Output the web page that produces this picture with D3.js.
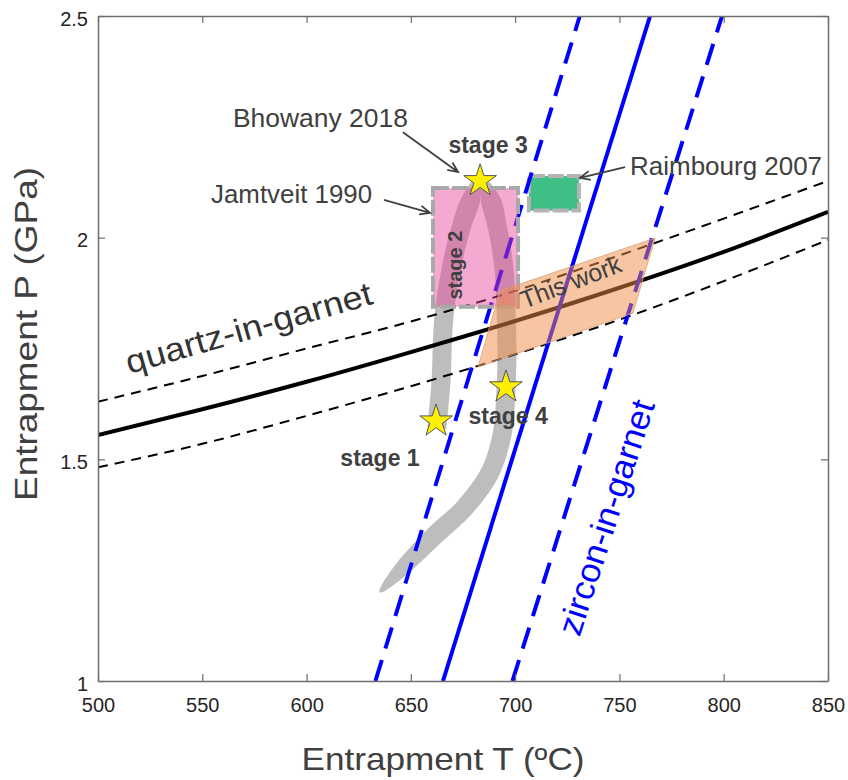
<!DOCTYPE html>
<html>
<head>
<meta charset="utf-8">
<script src="https://cdn.jsdelivr.net/npm/d3@7"></script>
<style>
  body { margin: 0; background: #fff; }
  svg { font-family: "Liberation Sans", Arial, sans-serif; }
</style>
</head>
<body>
<div id="chart"></div>
<script>
// axis ticks
const tempTicks = [500, 550, 600, 650, 700, 750, 800, 850];
const presTicks = [1, 1.5, 2, 2.5];

// quartz-in-garnet isomekes (P in GPa at each T)
const qigT = [500, 550, 600, 650, 700, 750, 800, 850];
const qigP = [1.555, 1.613, 1.675, 1.742, 1.812, 1.887, 1.968, 2.058];
const qigPHigh = [1.630, 1.688, 1.750, 1.811, 1.880, 1.960, 2.043, 2.128];
const qigPLow = [1.482, 1.535, 1.598, 1.665, 1.737, 1.815, 1.902, 1.995];

// zircon-in-garnet isomekes (T at P = 1 and 2.5)
const zigP = [1, 2.5];
const zigT = [665.4, 764.7];
const zigTLow = [633.0, 731.0];
const zigTHigh = [698.7, 799.2];

// published estimates and this work
const jamtveitT = [660.6, 701.4];
const jamtveitP = [1.844, 2.112];
const raimbourgT = [706.6, 730.6];
const raimbourgP = [2.061, 2.139];
const thisWorkT = [682.2, 692.7, 767.1, 756.5];
const thisWorkP = [1.708, 1.880, 1.999, 1.830];

// P-T path (centre line)
const pathT = [662.5, 664.5, 665.4, 666.8, 670.2, 674.5, 678.8, 683.2, 687.9, 691.8, 694.7,
  695.6, 696.1, 695.6, 694.7, 693.2, 688.0, 676.0, 661.6, 643.8, 635.2];
const pathP = [1.571, 1.679, 1.792, 1.859, 1.950, 2.029, 2.085, 2.117, 2.089, 2.017, 1.927,
  1.837, 1.747, 1.656, 1.589, 1.544, 1.471, 1.392, 1.329, 1.244, 1.201];

// stages
const stageNames = ["stage 1", "stage 3", "stage 4"];
const stageT = [662.1, 683.2, 695.6];
const stageP = [1.586, 2.128, 1.663];

const width = 848, height = 780;
const plot = { left: 98, right: 828, top: 16, bottom: 681 };

const x = d3.scaleLinear().domain([500, 850]).range([plot.left, plot.right]);
const y = d3.scaleLinear().domain([1, 2.5]).range([plot.bottom, plot.top]);

const svg = d3.select("#chart").append("svg")
  .attr("width", width)
  .attr("height", height);

svg.append("defs").append("clipPath").attr("id", "clip")
  .append("rect")
  .attr("x", plot.left).attr("y", plot.top)
  .attr("width", plot.right - plot.left).attr("height", plot.bottom - plot.top);

const g = svg.append("g").attr("clip-path", "url(#clip)");

// P-T path as a band with a tapered tail
const bandW = 19;
const pts = pathT.map((t, i) => [x(t), y(pathP[i])]);
const leftSide = [], rightSide = [];
pts.forEach((p, i) => {
  const a = pts[Math.max(i - 1, 0)], b = pts[Math.min(i + 1, pts.length - 1)];
  const dx = b[0] - a[0], dy = b[1] - a[1];
  const len = Math.hypot(dx, dy);
  const nx = -dy / len, ny = dx / len;
  let w = bandW / 2;
  if (i === pts.length - 2) w = 7;
  if (i === pts.length - 1) w = 1;
  leftSide.push([p[0] + nx * w, p[1] + ny * w]);
  rightSide.push([p[0] - nx * w, p[1] - ny * w]);
});
g.append("path")
  .attr("d", d3.line().curve(d3.curveCatmullRom)(leftSide.concat(rightSide.reverse())) + "Z")
  .attr("fill", "#bdbdbd");

// Raimbourg 2007 box
g.append("rect")
  .attr("x", x(raimbourgT[0])).attr("y", y(raimbourgP[1]))
  .attr("width", x(raimbourgT[1]) - x(raimbourgT[0]))
  .attr("height", y(raimbourgP[0]) - y(raimbourgP[1]))
  .attr("fill", "#3dbf85")
  .attr("stroke", "#b4b4b4").attr("stroke-width", 4)
  .attr("stroke-dasharray", "16,3");

// quartz-in-garnet lines
const qLine = d3.line().curve(d3.curveMonotoneX);
g.append("path")
  .attr("d", qLine(qigT.map((t, i) => [x(t), y(qigP[i])])))
  .attr("fill", "none").attr("stroke", "#000").attr("stroke-width", 4);
[qigPHigh, qigPLow].forEach(arr => {
  g.append("path")
    .attr("d", qLine(qigT.map((t, i) => [x(t), y(arr[i])])))
    .attr("fill", "none").attr("stroke", "#000").attr("stroke-width", 2)
    .attr("stroke-dasharray", "10,7");
});

// zircon-in-garnet lines
g.append("path")
  .attr("d", d3.line()(zigP.map((p, i) => [x(zigT[i]), y(p)])))
  .attr("stroke", "#0000ff").attr("stroke-width", 4);
[zigTLow, zigTHigh].forEach(arr => {
  g.append("path")
    .attr("d", d3.line()(zigP.map((p, i) => [x(arr[i]), y(p)])))
    .attr("stroke", "#0000ff").attr("stroke-width", 4)
    .attr("stroke-dasharray", "22,12");
});

// Jamtveit 1990 box
g.append("rect")
  .attr("x", x(jamtveitT[0])).attr("y", y(jamtveitP[1]))
  .attr("width", x(jamtveitT[1]) - x(jamtveitT[0]))
  .attr("height", y(jamtveitP[0]) - y(jamtveitP[1]))
  .attr("fill", "#e8409a").attr("fill-opacity", 0.45)
  .attr("stroke", "#a9a9a9").attr("stroke-width", 4)
  .attr("stroke-dasharray", "16,3");

// this work
g.append("polygon")
  .attr("points", thisWorkT.map((t, i) => [x(t), y(thisWorkP[i])].join(",")).join(" "))
  .attr("fill", "#f08c46").attr("fill-opacity", 0.5)
  .attr("stroke", "#d9a07a").attr("stroke-width", 0.8);

// annotation arrows
const arrows = [
  { from: [646.2, 2.238], to: [672.6, 2.148] },
  { from: [637.1, 2.085], to: [659.2, 2.056] },
  { from: [752.7, 2.159], to: [731.1, 2.135] }
];
arrows.forEach(a => {
  const x0 = x(a.from[0]), y0 = y(a.from[1]), x1 = x(a.to[0]), y1 = y(a.to[1]);
  const ang = Math.atan2(y1 - y0, x1 - x0), h = 11, s = 0.42;
  g.append("path")
    .attr("d", `M${x0},${y0}L${x1},${y1}` +
      `M${x1 - h * Math.cos(ang - s)},${y1 - h * Math.sin(ang - s)}L${x1},${y1}` +
      `L${x1 - h * Math.cos(ang + s)},${y1 - h * Math.sin(ang + s)}`)
    .attr("fill", "none").attr("stroke", "#404040").attr("stroke-width", 1.8);
});

// stars
g.selectAll(".star").data(stageT).enter().append("path")
  .attr("class", "star")
  .attr("transform", (t, i) => `translate(${x(t)},${y(stageP[i])})`)
  .attr("d", d3.symbol(d3.symbolStar, 330)())
  .attr("fill", "#fff000").attr("stroke", "#555").attr("stroke-width", 1);

// texts
const labels = [
  { text: "Bhowany 2018", t: 564.7, p: 2.250, anchor: "start", size: 25, len: 175 },
  { text: "Jamtveit 1990", t: 554.2, p: 2.078, anchor: "start", size: 25, len: 161 },
  { text: "Raimbourg 2007", t: 755.1, p: 2.141, anchor: "start", size: 25, len: 192 },
  { text: "stage 3", t: 687.0, p: 2.191, anchor: "middle", size: 23, bold: true },
  { text: "stage 1", t: 635.2, p: 1.485, anchor: "middle", size: 23, bold: true },
  { text: "stage 4", t: 696.6, p: 1.580, anchor: "middle", size: 23, bold: true },
  { text: "stage 2", t: 674.5, p: 1.938, anchor: "middle", size: 20, bold: true, rot: -90 },
  { text: "This work", t: 728.2, p: 1.882, anchor: "middle", size: 25, rot: -21, len: 106 },
  { text: "quartz-in-garnet", t: 573.8, p: 1.772, anchor: "middle", size: 33, rot: -16, len: 255, color: "#333" },
  { text: "zircon-in-garnet", t: 749.0, p: 1.361, anchor: "middle", size: 34, rot: -72, len: 245, color: "#0000ff" }
];
labels.forEach(d => {
  const tx = svg.append("text")
    .attr("transform", `translate(${x(d.t)},${y(d.p)}) rotate(${d.rot || 0})`)
    .attr("text-anchor", d.anchor)
    .attr("font-size", d.size)
    .attr("font-weight", d.bold ? "bold" : "normal")
    .attr("fill", d.color || "#404040")
    .text(d.text);
  if (d.len) tx.attr("textLength", d.len).attr("lengthAdjust", "spacingAndGlyphs");
});

// axes
const axisColor = "#6e6e6e";
function styleAxis(sel) {
  sel.select(".domain").attr("stroke", axisColor).attr("stroke-width", 1.5);
  sel.selectAll(".tick line").attr("stroke", axisColor).attr("stroke-width", 1.2);
  sel.selectAll("text").attr("font-size", 20).attr("fill", "#262626")
    .attr("font-family", "'Liberation Sans', Arial, sans-serif");
}
svg.append("g").attr("transform", `translate(0,${plot.bottom})`)
  .call(d3.axisBottom(x).tickValues(tempTicks).tickSize(-7).tickSizeOuter(0).tickPadding(17).tickFormat(d3.format("d")))
  .call(styleAxis);
svg.append("g").attr("transform", `translate(0,${plot.top})`)
  .call(d3.axisTop(x).tickValues(tempTicks).tickSize(-7).tickSizeOuter(0).tickFormat(""))
  .call(styleAxis);
svg.append("g").attr("transform", `translate(${plot.left},0)`)
  .call(d3.axisLeft(y).tickValues(presTicks).tickSize(-7).tickSizeOuter(0).tickPadding(10).tickFormat(d3.format("")))
  .call(styleAxis)
  .selectAll("text").attr("dy", "0.45em");
svg.append("g").attr("transform", `translate(${plot.right},0)`)
  .call(d3.axisRight(y).tickValues(presTicks).tickSize(-7).tickSizeOuter(0).tickFormat(""))
  .call(styleAxis);

// axis titles
svg.append("text")
  .attr("x", 443).attr("y", 770)
  .attr("text-anchor", "middle")
  .attr("font-size", 32).attr("fill", "#404040")
  .attr("textLength", 283).attr("lengthAdjust", "spacingAndGlyphs")
  .text("Entrapment T (ºC)");
svg.append("text")
  .attr("transform", "translate(37,334) rotate(-90)")
  .attr("text-anchor", "middle")
  .attr("font-size", 32).attr("fill", "#404040")
  .attr("textLength", 334).attr("lengthAdjust", "spacingAndGlyphs")
  .text("Entrapment P (GPa)");
</script>
</body>
</html>
